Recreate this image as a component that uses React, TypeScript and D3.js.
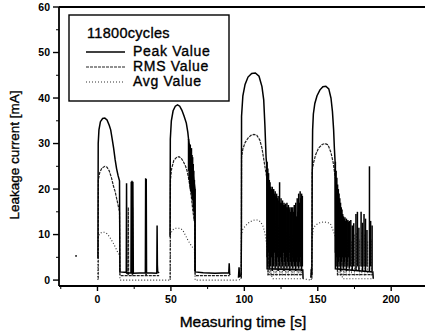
import React from 'react';
import * as d3 from 'd3';

type Pt = [number, number];
type Spike = [number, number, number];

// Peak Value, one array per load cycle (time s, current mA)
const peak1: Pt[] = [[0.3, 4.8], [0.5, 30], [1, 33], [2, 34.8], [3.5, 35.5], [5, 35.6], [6.5, 35.2], [8, 34], [9, 33], [10, 31], [11, 29], [12, 26.5], [13, 24.5], [14, 23], [15, 21.8], [15.3, 1.8], [19.6, 1.7], [19.8, 21.3], [20, 1.5], [22.8, 1.6], [23, 21.6], [23.2, 1.5], [23.5, 21.8], [23.8, 1.4], [24.1, 21.6], [24.4, 1.5], [32.6, 1.6], [32.8, 22.4], [33, 1.5], [33.2, 22.2], [33.4, 1.6], [40.4, 1.5], [40.6, 12], [40.8, 3.3], [41, 1.8], [42, 1.6]];
const peak2: Pt[] = [[49.4, 9.5], [49.6, 31], [50.3, 35], [51.5, 37.2], [53, 38.2], [54.5, 38.5], [56, 38.2], [57.5, 37.3], [59, 36], [60.5, 34.5], [61.5, 32.5], [62, 31], [66.4, 20], [66.5, 1.8], [72, 1.6], [80, 1.5], [89.4, 1.6], [89.7, 3.7], [90, 1.2], [90.3, 1.4]];
const peak3: Pt[] = [[96, 0.5], [96.4, 2.8], [96.8, 0.8], [97.8, 1], [98, 10], [98.1, 36], [99, 40.5], [100.5, 43], [102.5, 44.6], [105, 45.4], [107.5, 45.5], [110, 44.8], [112, 42.5], [113.2, 39.6], [114, 34], [114.8, 27], [115.3, 25], [115.5, 2.5], [139.8, 2.2], [140, 0.3]];
const peak4: Pt[] = [[145.3, 0.5], [145.6, 2.5], [146, 1], [146.2, 23], [146.5, 33], [147, 36.5], [148, 38.8], [149.5, 40.5], [151.5, 41.8], [153.5, 42.5], [155.5, 42.6], [157.5, 42], [159, 40], [160, 37], [160.8, 33], [161.3, 29], [161.8, 26], [162, 2.5], [187.5, 1.8], [187.8, 0.3]];

// RMS Value
const rms1: Pt[] = [[0.5, 0.3], [0.6, 22], [1.5, 23.6], [3, 24.6], [5, 25], [6.5, 24.8], [8, 24], [9.5, 22.5], [11, 20.5], [12, 19.5], [13, 18], [14, 16.5], [15, 15], [15.3, 1], [20.8, 1], [21, 16], [21.2, 1], [23.7, 1], [23.9, 16], [24.1, 1], [32.9, 1], [33.1, 16], [33.3, 1], [42, 1]];
const rms2: Pt[] = [[49.5, 0.3], [49.7, 22], [50.5, 24.5], [52, 26.3], [54, 27], [55.5, 27.1], [57, 26.8], [58.5, 26], [60, 25], [61, 24], [62, 22.5], [63, 20.5], [64, 18], [65, 15], [66.3, 12.5], [66.5, 1], [90, 1]];
const rms3: Pt[] = [[97.5, 0.3], [98, 0.5], [98.1, 27], [99, 28.8], [100.5, 30.2], [102.5, 31.2], [104.5, 31.8], [106.5, 32], [108.5, 31.8], [110.5, 30.8], [112, 29], [113, 27], [114, 25], [115, 23], [116, 20.5], [116.2, 1.2], [140, 1.2]];
const rms4: Pt[] = [[146, 0.3], [146.2, 24], [147, 25.6], [148.5, 27.5], [150.5, 29], [153, 29.8], [155, 30], [157, 29.7], [159, 28], [160.5, 25.8], [161.5, 23.5], [162.5, 21.5], [163.2, 19.5], [163.4, 1.2], [187.5, 1.2]];

// Avg Value
const avg1: Pt[] = [[0.3, 0], [0.5, 9.5], [1.5, 10.2], [3, 10.5], [5, 10.5], [6.5, 10.2], [8, 9.6], [9.5, 8.8], [11, 8], [12.5, 7], [13.5, 6.3], [14.5, 5.8], [15, 5.5], [15.3, 0], [49.5, 0]];
const avg2: Pt[] = [[49.5, 0], [49.7, 10], [51, 11], [53, 11.4], [56, 11.4], [58, 11], [60, 9.8], [61.5, 8.8], [63, 8], [64.5, 7.3], [66, 6.9], [66.5, 0], [96, 0]];
const avg3: Pt[] = [[96.5, 0], [97.8, 0.5], [98, 10], [99, 11.2], [101, 12], [103, 12.6], [105, 13], [107, 13.2], [109, 13.2], [111, 12.8], [112.5, 12], [113.5, 11], [114.5, 9.5], [115.5, 7], [116.5, 4.5], [117.5, 2.5], [118.5, 1], [119.5, 0.3], [140, 0.3], [145.5, 0]];
const avg4: Pt[] = [[145.5, 0], [146.2, 9], [147, 11.5], [149, 12.2], [151.5, 12.6], [154, 12.8], [157, 12.6], [158.6, 12.4], [160, 11.3], [162, 9.5], [164.3, 6.6], [165.5, 3.5], [166.5, 1], [167, 0.3], [188, 0.3]];

// fluctuating parts after each cycle: [time, low, high]
const peakNoise: Spike[] = [
  [62, 24, 31], [62.4, 22, 30], [62.8, 21, 29.5], [63.2, 20, 29.8], [63.6, 19.5, 28.5], [64, 19, 29], [64.4, 18, 27.5], [64.8, 17.5, 27], [65.2, 16, 25.5], [65.6, 15, 24], [66, 13, 22], [66.4, 2, 20],
  [115.5, 5, 26], [116, 3, 24.5], [116.5, 6, 23.5], [117, 2.5, 22], [117.5, 4, 21.5], [118, 3, 20.5], [118.5, 5, 20], [119, 2, 20.5], [119.5, 4, 19.5], [120, 3, 20], [120.5, 6, 19], [121, 2.5, 19.5], [121.5, 4, 18.5], [122, 3, 19], [122.5, 5, 18], [123, 2, 18.5], [123.5, 4, 17.5], [124, 3, 21.5], [124.5, 5, 17], [125, 2.5, 18], [125.5, 4, 17], [126, 3, 17.5], [126.5, 6, 16.5], [127, 2, 17], [127.5, 4, 16.5], [128, 3, 16.8], [128.5, 5, 16], [129, 2.5, 17], [129.5, 4, 16], [130, 3, 16.5], [130.5, 6, 15.5], [131, 2, 16], [131.5, 4, 15], [132, 3, 16], [132.5, 5, 15.5], [133, 2.5, 16], [133.5, 4, 15], [134, 3, 16.5], [134.5, 5, 15], [135, 2, 17], [135.5, 4, 14], [136, 3, 18], [136.5, 5, 15], [137, 2.5, 19], [137.5, 4, 17], [138, 3, 19.5], [138.5, 5, 18], [139, 2, 19], [139.5, 3, 18.5],
  [162, 6, 26], [162.5, 3, 24], [163, 5, 22.5], [163.5, 2.5, 21], [164, 4, 20], [164.5, 3, 19], [165, 5, 18], [165.5, 2, 17], [166, 4, 16], [166.5, 3, 15.5], [167, 5, 14.5], [167.5, 2.5, 14], [168, 4, 13.5], [168.5, 3, 13.8], [169, 5, 13], [169.5, 2, 13.5], [170, 4, 13], [170.5, 3, 13.2], [171, 5, 12.8], [171.5, 2.5, 13], [172.5, 3, 13.2], [173.5, 2, 12], [174.5, 3, 12.5], [176, 2, 14.5], [177, 3, 15], [178, 2, 11.5], [179.5, 3, 15], [180.5, 2, 12.6], [181.5, 3, 14.5], [182.5, 2, 13.5], [183.5, 3, 11], [185.2, 2, 25], [186, 3, 13], [187, 2, 12],
];
const rmsNoise: Spike[] = [
  [116, 1, 19], [117, 1.5, 16], [118, 1, 15], [119, 2, 14], [120, 1, 13.5], [121, 1.5, 13], [122, 1, 12.5], [123, 2, 12], [124, 1, 12], [125, 1.5, 11.5], [126, 1, 11], [127, 2, 11], [128, 1, 10.5], [129, 1.5, 10.5], [130, 1, 10], [131, 2, 10], [132, 1, 9.5], [133, 1.5, 10], [134, 1, 9.5], [135, 2, 10.5], [136, 1, 11], [137, 1.5, 12], [138, 1, 12.5], [139, 1.5, 12],
  [163.5, 1, 16], [164.5, 1.5, 14], [165.5, 1, 12.5], [166.5, 2, 11], [167.5, 1, 10], [168.5, 1.5, 9.5], [169.5, 1, 9.5], [170.5, 2, 9], [171.5, 1, 9], [173, 1.5, 8.5], [175, 1, 10], [176.5, 2, 10.5], [178.5, 1, 9], [180, 1.5, 10.5], [182, 1, 10], [184, 1.5, 8.5], [186.5, 1, 9],
];
const strayPoint: Pt[] = [[-14.6, 5.3]];

const yTicks = [0, 10, 20, 30, 40, 50, 60];
const yMinor = [5, 15, 25, 35, 45, 55];
const xTicks = [0, 50, 100, 150, 200];
const xMinor = [-25, 25, 75, 125, 175];

const FONT = '"Liberation Sans", Arial, sans-serif';

const App = () => {
  const width = 425;
  const height = 333;
  const plot = { left: 59, right: 426, top: 7, bottom: 286 };

  const x = d3.scaleLinear().domain([-26.2, 223.7]).range([plot.left, plot.right]);
  const y = d3.scaleLinear().domain([-1.3, 60]).range([plot.bottom, plot.top]);

  const line = d3.line<Pt>().x((d) => x(d[0])).y((d) => y(d[1]));

  const peakStyle = { stroke: '#000', strokeWidth: 1.5 };
  const rmsStyle = { stroke: '#222', strokeWidth: 1.2, strokeDasharray: '3,1' };
  const avgStyle = { stroke: '#333', strokeWidth: 1.1, strokeDasharray: '1,2' };
  const textInk = { stroke: '#000', strokeWidth: 0.35 };

  return (
    <svg width={width} height={height} style={{ position: 'absolute', left: 0, top: 0, background: '#fff' }} fontFamily={FONT}>
      <defs>
        <clipPath id="plotClip">
          <rect x={plot.left} y={plot.top} width={plot.right - plot.left} height={plot.bottom - plot.top} />
        </clipPath>
      </defs>

      <g clipPath="url(#plotClip)" fill="none">
        {[avg1, avg2, avg3, avg4].map((d, i) => <path key={'a' + i} d={line(d) ?? ''} {...avgStyle} />)}
        {rmsNoise.map((d, i) => <line key={'rn' + i} x1={x(d[0])} x2={x(d[0])} y1={y(d[1])} y2={y(d[2])} stroke="#666" strokeWidth={1} strokeDasharray="2,1" />)}
        {[rms1, rms2, rms3, rms4].map((d, i) => <path key={'r' + i} d={line(d) ?? ''} {...rmsStyle} />)}
        {peakNoise.map((d, i) => <line key={'pn' + i} x1={x(d[0])} x2={x(d[0])} y1={y(d[1])} y2={y(d[2])} stroke="#000" strokeWidth={1.5} />)}
        {[peak1, peak2, peak3, peak4].map((d, i) => <path key={'p' + i} d={line(d) ?? ''} {...peakStyle} />)}
        {strayPoint.map((d, i) => <circle key={'s' + i} cx={x(d[0])} cy={y(d[1])} r={0.9} fill="#000" />)}
      </g>

      {/* frame */}
      <line x1={plot.left} x2={plot.right} y1={plot.top} y2={plot.top} stroke="#000" strokeWidth={1.8} />
      <line x1={plot.left} x2={plot.left} y1={plot.top} y2={plot.bottom} stroke="#000" strokeWidth={1.8} />
      <line x1={plot.left} x2={plot.right} y1={plot.bottom} y2={plot.bottom} stroke="#000" strokeWidth={1.8} />

      {yTicks.map((t) => (
        <g key={'yt' + t}>
          <line x1={plot.left - 6} x2={plot.left} y1={y(t)} y2={y(t)} stroke="#000" strokeWidth={1.4} />
          <text x={plot.left - 9} y={y(t)} dy="0.35em" textAnchor="end" fontSize={10.5} fontWeight="bold">{t}</text>
        </g>
      ))}
      {yMinor.map((t) => <line key={'ym' + t} x1={plot.left - 3} x2={plot.left} y1={y(t)} y2={y(t)} stroke="#000" strokeWidth={1} />)}

      {xTicks.map((t) => (
        <g key={'xt' + t}>
          <line x1={x(t)} x2={x(t)} y1={plot.bottom} y2={plot.bottom + 5} stroke="#000" strokeWidth={1.4} />
          <text x={x(t)} y={303} textAnchor="middle" fontSize={10.5} fontWeight="bold">{t}</text>
        </g>
      ))}
      {xMinor.filter((t) => x(t) > plot.left).map((t) => <line key={'xm' + t} x1={x(t)} x2={x(t)} y1={plot.bottom} y2={plot.bottom + 3} stroke="#000" strokeWidth={1} />)}

      <text x={243} y={327} textAnchor="middle" fontSize={15.5} {...textInk}>Measuring time [s]</text>
      <text transform="translate(19,155) rotate(-90)" textAnchor="middle" fontSize={13.5} {...textInk}>Leakage current [mA]</text>

      {/* legend */}
      <rect x={69} y={15} width={160} height={86} fill="#fff" stroke="#000" strokeWidth={1.4} />
      <text x={87} y={38} fontSize={14.5} letterSpacing={0.3} {...textInk}>11800cycles</text>
      <line x1={86} x2={125} y1={52} y2={52} {...peakStyle} />
      <line x1={86} x2={125} y1={67} y2={67} {...rmsStyle} />
      <line x1={86} x2={125} y1={82} y2={82} {...avgStyle} />
      <text x={133} y={56} fontSize={14} letterSpacing={0.7} {...textInk}>Peak Value</text>
      <text x={133} y={71} fontSize={14} letterSpacing={0.7} {...textInk}>RMS Value</text>
      <text x={133} y={86} fontSize={14} letterSpacing={0.7} {...textInk}>Avg Value</text>
    </svg>
  );
};

export default App;
